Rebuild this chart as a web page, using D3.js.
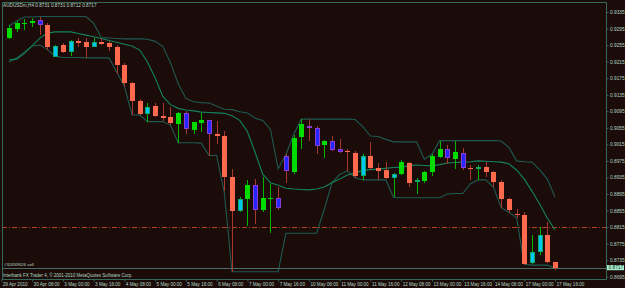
<!DOCTYPE html>
<html><head><meta charset="utf-8">
<script src="https://cdn.jsdelivr.net/npm/d3@7"></script>
<style>
html,body{margin:0;padding:0;background:#1b0c0a;overflow:hidden}
svg{display:block}
text{font-family:"Liberation Sans",Arial,sans-serif}
</style></head><body>
<svg id="c" width="625" height="288"></svg>
<script>
// ---------------- DATA ----------------
const symbol = "AUDUSDm,H4";
const orderLabel = "#32459526 sell";
const copyright = "Interbank FX Trader 4, \u00a9 2001-2010 MetaQuotes Software Corp.";

const open = [.9272,.9294,.9305,.9309,.9315,.9304,.9227,.9255,.9238,.9266,.9262,.9251,.9263,.9259,.9250,.9207,.9164,.9121,.9088,.9108,.9084,.9080,.9064,.9092,.9050,.9066,.9073,.9040,.9035,.8935,.8854,.8882,.8916,.8856,.8883,.8886,.8988,.8949,.9032,.9060,.9054,.9013,.9023,.9003,.8999,.8995,.8938,.8987,.8959,.8953,.8934,.8943,.8971,.8923,.8927,.8949,.8984,.9003,.8980,.8995,.8958,.8955,.8961,.8948,.8925,.8883,.8847,.8844,.8727,.8755,.8796,.8731];
const high = [.9304,.9313,.9317,.9320,.9324,.9308,.9255,.9259,.9267,.9273,.9271,.9271,.9271,.9265,.9255,.9211,.9166,.9125,.9114,.9116,.9115,.9106,.9094,.9096,.9070,.9090,.9075,.9072,.9048,.8955,.8888,.8929,.8932,.8935,.8919,.8913,.8992,.9038,.9076,.9076,.9059,.9025,.9035,.9027,.9003,.8999,.8992,.9021,.8971,.8973,.8946,.8977,.8972,.8934,.8951,.8992,.9024,.9013,.9024,.9005,.8965,.8965,.8973,.8951,.8929,.8886,.8858,.8851,.8796,.8816,.8828,.8731];
const low = [.9270,.9287,.9291,.9299,.9279,.9243,.9225,.9235,.9229,.9251,.9224,.9250,.9255,.9241,.9185,.9156,.9086,.9086,.9070,.9081,.9071,.9061,.9019,.9040,.9040,.9046,.8988,.9016,.8902,.8707,.8852,.8818,.8822,.8852,.8800,.8856,.8921,.8943,.9003,.9024,.8992,.8981,.8999,.8995,.8951,.8933,.8929,.8953,.8930,.8932,.8887,.8940,.8911,.8896,.8921,.8938,.8981,.8967,.8955,.8953,.8929,.8929,.8935,.8911,.8860,.8850,.8836,.8723,.8725,.8747,.8727,.8712];
const close = [.9296,.9308,.9309,.9314,.9304,.9250,.9254,.9238,.9265,.9261,.9251,.9263,.9257,.9250,.9207,.9164,.9120,.9088,.9106,.9083,.9079,.9066,.9091,.9051,.9068,.9075,.9039,.9035,.8935,.8854,.8883,.8916,.8856,.8886,.8886,.8860,.8950,.9031,.9064,.9054,.9012,.9024,.9001,.8997,.8996,.8938,.8987,.8957,.8951,.8934,.8943,.8972,.8922,.8929,.8949,.8986,.9003,.8981,.8996,.8959,.8955,.8961,.8947,.8925,.8882,.8856,.8844,.8726,.8755,.8795,.8730,.8717];
// signal state painted on each bar: G = bull/with trend, R = bear/with trend, C = bull/against, B = bear/against
const barSignal = ["G","G","G","G","B","R","C","R","C","R","R","C","R","R","R","R","R","R","C","R","R","R","G","B","G","G","B","R","R","R","C","G","B","G","G","B","B","G","G","B","B","G","B","B","R","R","C","R","R","R","C","G","R","C","G","G","G","B","G","B","R","C","R","R","R","R","R","R","C","C","R","R"];

const channelUpper = [.9301,.9313,.9323,.9323,.9324,.9324,.9324,.9324,.9324,.9324,.9324,.9308,.9273,.9272,.9271,.9270,.9270,.9270,.9269,.9264,.9252,.9212,.9162,.9126,.9118,.9116,.9115,.9108,.9100,.9099,.9094,.9091,.9078,.9073,.9051,.8956,.8990,.9038,.9076,.9076,.9076,.9076,.9076,.9076,.9076,.9075,.9058,.9035,.9034,.9027,.9021,.9021,.9021,.9021,.8979,.8991,.9024,.9024,.9024,.9024,.9024,.9024,.9024,.9024,.9023,.9008,.8975,.8973,.8972,.8954,.8931,.8887];
const channelMiddle = [.9219,.9221,.9235,.9253,.9272,.9284,.9287,.9287,.9287,.9283,.9279,.9275,.9271,.9266,.9262,.9257,.9253,.9243,.9214,.9176,.9131,.9111,.9102,.9098,.9096,.9093,.9092,.9091,.9090,.9084,.9073,.9046,.8996,.8943,.8922,.8916,.8909,.8907,.8906,.8905,.8907,.8912,.8922,.8931,.8941,.8946,.8952,.8954,.8955,.8957,.8959,.8960,.8963,.8965,.8964,.8963,.8966,.8970,.8971,.8972,.8973,.8975,.8974,.8973,.8972,.8968,.8953,.8931,.8902,.8871,.8837,.8808];
const channelLower = [.9214,.9224,.9238,.9253,.9255,.9244,.9228,.9225,.9225,.9225,.9224,.9224,.9224,.9224,.9190,.9156,.9086,.9086,.9070,.9070,.9070,.9061,.9019,.9019,.9019,.9018,.8988,.8988,.8898,.8707,.8707,.8707,.8707,.8707,.8707,.8707,.8800,.8800,.8800,.8800,.8800,.8858,.8922,.8942,.8951,.8934,.8929,.8929,.8929,.8929,.8887,.8886,.8886,.8886,.8886,.8886,.8886,.8895,.8896,.8896,.8920,.8929,.8929,.8911,.8862,.8851,.8838,.8725,.8723,.8723,.8723,.8716];

const priceTicks = [0.9335,0.9295,0.9255,0.9215,0.9175,0.9135,0.9095,0.9055,0.9015,0.8975,0.8935,0.8895,0.8855,0.8815,0.8775,0.8735,0.8695];
const timeLabels = ["29 Apr 2010","30 Apr 08:00","3 May 00:00","3 May 16:00","4 May 08:00","5 May 00:00","5 May 16:00","6 May 08:00","7 May 00:00","7 May 16:00","10 May 08:00","11 May 00:00","11 May 16:00","12 May 08:00","13 May 00:00","13 May 16:00","14 May 08:00","17 May 00:00","17 May 16:00"];
const timeLabelBars = [-1,3,7,11,15,19,23,27,31,35,39,43,47,51,55,59,63,67,71];
const pendingLevel = 0.8815;
const bidLevel = 0.8717;

// ---------------- STYLE / LAYOUT ----------------
const W = 625, H = 288;
const plot = {l:2, t:2, r:606, b:279};
const frameColor = "#34695c";
const textColor = "#b4d6c2";
const col = {
  G:{wick:"#00b400", edge:"#00dc00", fill:"#00dc00"},
  R:{wick:"#a5382a", edge:"#ff6a4e", fill:"#ff6a4e"},
  C:{wick:"#00b400", edge:"#10a868", fill:"#00c8f2"},
  B:{wick:"#a5382a", edge:"#8c3cd2", fill:"#2626ff"}
};

const svg = d3.select("#c");
svg.append("rect").attr("width",W).attr("height",H).attr("fill","#1b0c0a");

const x = d3.scaleLinear().domain([0,71]).range([9,555]);
const y = d3.scaleLinear().domain([0.8695,0.9335]).range([276.7,12]);
const fmt = d3.format(".4f");

svg.append("defs").append("clipPath").attr("id","pc")
  .append("rect").attr("x",plot.l).attr("y",plot.t).attr("width",plot.r-plot.l).attr("height",plot.b-plot.t);

const g = svg.append("g").attr("clip-path","url(#pc)");

// pending order dash-dot line
g.append("line").attr("x1",plot.l).attr("x2",plot.r)
  .attr("y1",Math.round(y(pendingLevel))+0.5).attr("y2",Math.round(y(pendingLevel))+0.5)
  .attr("stroke","#b2441c").attr("stroke-width",1).attr("shape-rendering","crispEdges")
  .attr("stroke-dasharray","5,2,1,2");

// channel lines
const line = d3.line().x((d,i)=>x(i)).y(d=>y(d));
[[channelUpper,"#1e5a52"],[channelLower,"#1e5a52"],[channelMiddle,"#13845e"]].forEach(([arr,c])=>{
  g.append("path").attr("d",line(arr)).attr("fill","none").attr("stroke",c).attr("stroke-width",1.1);
});

// bid / order line
g.append("line").attr("x1",0).attr("x2",plot.r)
  .attr("y1",Math.round(y(bidLevel))+0.5).attr("y2",Math.round(y(bidLevel))+0.5)
  .attr("stroke","#4b6a68").attr("stroke-width",1).attr("shape-rendering","crispEdges");

// candles
const cg = g.append("g").attr("shape-rendering","crispEdges");
open.forEach((o,i)=>{
  const c = close[i], s = col[barSignal[i]];
  const cx = Math.round(x(i));
  const wt = Math.round(y(high[i])), wb = Math.round(y(low[i]));
  cg.append("rect").attr("x",cx).attr("y",wt).attr("width",1).attr("height",Math.max(1,wb-wt)).attr("fill",s.wick);
  const bt = Math.round(y(Math.max(o,c))), bb = Math.round(y(Math.min(o,c)));
  const h = Math.max(1,bb-bt);
  cg.append("rect").attr("x",cx-2).attr("y",bt).attr("width",5).attr("height",h).attr("fill",s.edge);
  if (h>2 && s.edge!==s.fill)
    cg.append("rect").attr("x",cx-1).attr("y",bt+1).attr("width",3).attr("height",h-2).attr("fill",s.fill);
});

// frame
svg.append("path").attr("d",`M${plot.l+0.5},${plot.b+0.5}V${plot.t+0.5}H${plot.r+0.5}V${plot.b+0.5}H${plot.l}`)
  .attr("fill","none").attr("stroke",frameColor).attr("stroke-width",1);

// right price axis
const ya = svg.append("g").attr("transform",`translate(${plot.r+0.5},0)`)
  .call(d3.axisRight(y).tickValues(priceTicks).tickSize(2).tickPadding(1.5).tickFormat(fmt));
ya.select(".domain").remove();
ya.selectAll("line").attr("stroke",frameColor);
ya.selectAll("text").attr("fill",textColor).attr("font-size","4.8px").attr("font-family","Liberation Sans, Arial, sans-serif");

// current price marker
const yb = y(bidLevel);
svg.append("rect").attr("x",plot.r+1).attr("y",yb-2.6).attr("width",17).attr("height",5.2).attr("fill","#a8f2cc");
svg.append("text").attr("x",plot.r+2.5).attr("y",yb+1.7).attr("font-size","4.8px").attr("fill","#10261c").text(fmt(bidLevel));

// bottom time axis
const xa = svg.append("g").attr("transform",`translate(0,${plot.b+0.5})`)
  .call(d3.axisBottom(x).tickValues(timeLabelBars).tickSize(2).tickPadding(1.6).tickFormat((d,i)=>timeLabels[i]));
xa.select(".domain").remove();
xa.selectAll("line").attr("stroke",frameColor);
xa.selectAll("text").attr("fill",textColor).attr("font-size","4.6px").attr("text-anchor","start").attr("dx","1")
  .attr("font-family","Liberation Sans, Arial, sans-serif");

// texts
const last = open.length-1;
svg.append("text").attr("x",3).attr("y",7.3).attr("font-size","4.7px").attr("fill",textColor)
  .text(`${symbol}  ${fmt(open[last])} ${fmt(high[last])} ${fmt(low[last])} ${fmt(close[last])}`);
svg.append("text").attr("x",4).attr("y",265.5).attr("font-size","4.4px").attr("fill",textColor).text(orderLabel);
svg.append("text").attr("x",3).attr("y",277.3).attr("font-size","4.5px").attr("fill",textColor).text(copyright);
</script>
</body></html>
